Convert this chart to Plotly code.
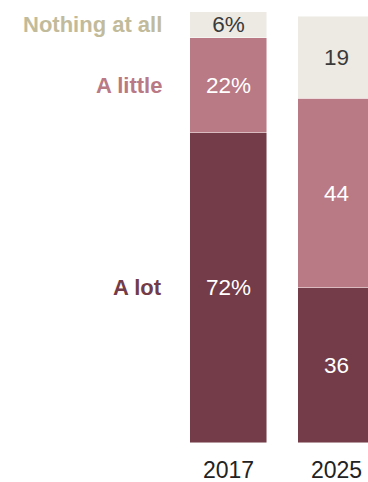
import plotly.graph_objects as go

# Survey answers, stacked from the bottom up
years = ["2017", "2025"]
categories = ["A lot", "A little", "Nothing at all"]
values = {
    "A lot": [72, 36],
    "A little": [22, 44],
    "Nothing at all": [6, 19],
}
value_labels = {
    "A lot": ["72%", "36"],
    "A little": ["22%", "44"],
    "Nothing at all": ["6%", "19"],
}

colors = {
    "A lot": "#733C48",
    "A little": "#B97985",
    "Nothing at all": "#EDEAE3",
}
text_colors = {
    "A lot": "#FFFFFF",
    "A little": "#FFFFFF",
    "Nothing at all": "#3A3A3A",
}
legend_colors = {
    "A lot": "#733C48",
    "A little": "#B97985",
    "Nothing at all": "#C2BB9B",
}

xpos = list(range(len(years)))

fig = go.Figure()
for cat in categories:
    fig.add_trace(go.Bar(
        x=xpos,
        y=values[cat],
        width=0.713,
        marker=dict(color=colors[cat], line=dict(color="rgba(255,255,255,0.6)", width=0.8)),
        text=value_labels[cat],
        textposition="inside",
        insidetextanchor="middle",
        textangle=0,
        textfont=dict(family="Liberation Sans, Arial, sans-serif", size=22.5,
                      color=text_colors[cat]),
        constraintext="none",
        hoverinfo="skip",
        showlegend=False,
    ))

# Category names next to the first bar, at each segment's middle
first = [values[c][0] for c in categories]
base = 0
for cat, v in zip(categories, first):
    fig.add_annotation(
        x=-0.6, y=base + v / 2, xref="x", yref="y",
        text=f"<b>{cat}</b>", showarrow=False,
        xanchor="right", yanchor="middle",
        font=dict(family="Liberation Sans, Arial, sans-serif", size=22,
                  color=legend_colors[cat]),
    )
    base += v

# Year labels under the bars
for xp, yr in zip(xpos, years):
    fig.add_annotation(
        x=xp, y=-6.2, xref="x", yref="y", text=yr, showarrow=False,
        xanchor="center", yanchor="middle",
        font=dict(family="Liberation Sans, Arial, sans-serif", size=23, color="#222222"),
    )

fig.update_layout(
    barmode="stack",
    width=368, height=482,
    margin=dict(l=0, r=0, t=0, b=0),
    paper_bgcolor="white",
    plot_bgcolor="white",
    uniformtext=dict(mode=False),
    xaxis=dict(range=[-2.116, 1.292], visible=False, fixedrange=True),
    yaxis=dict(range=[-9.05, 102.78], visible=False, fixedrange=True),
)

fig.write_html("out.html")
